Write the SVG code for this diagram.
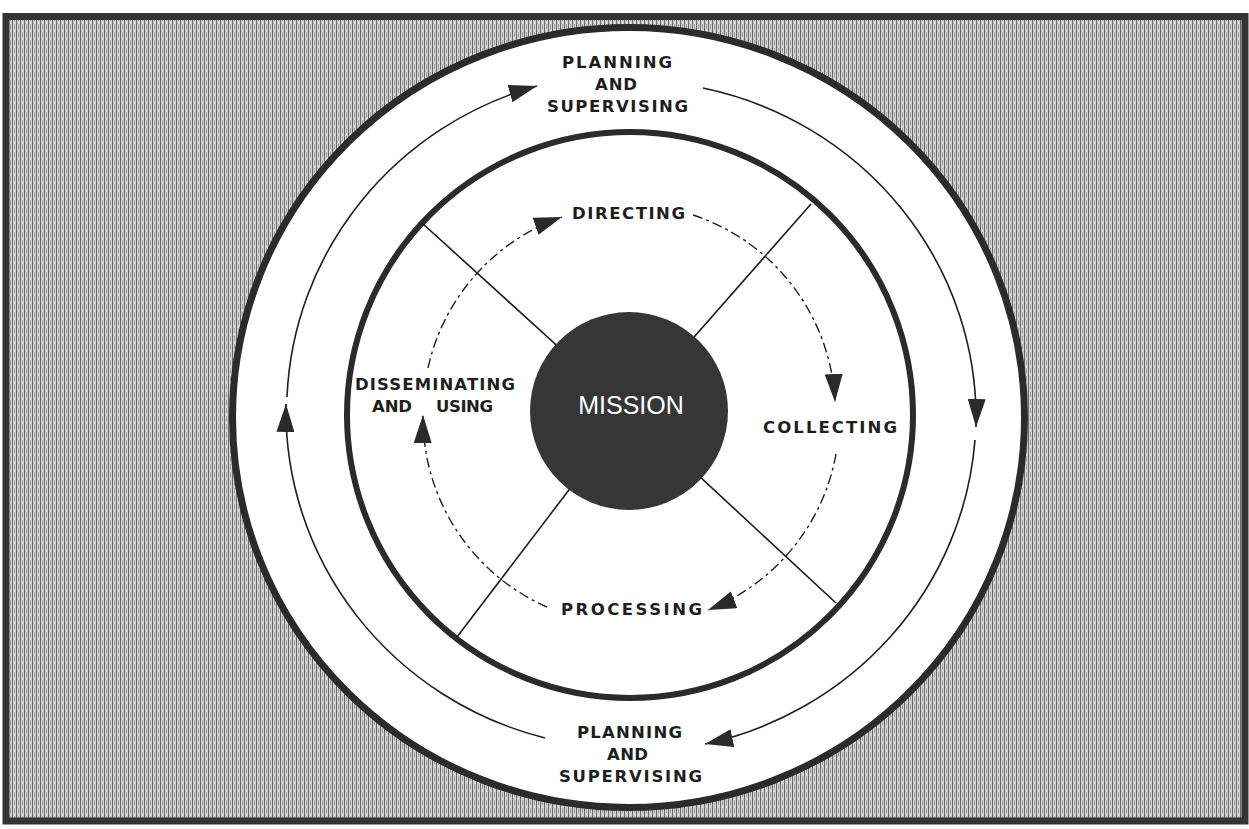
<svg xmlns="http://www.w3.org/2000/svg" width="1249" height="829" viewBox="0 0 1249 829">
  <style>
    .lbl { font-family: "DejaVu Sans", "Liberation Sans", Arial, sans-serif; font-weight: bold; font-size: 16.5px; fill: #1e1e1e; }
    .ring { fill: none; stroke: #2b2b2b; }
    .cyc { fill: none; stroke: #1e1e1e; stroke-width: 1.6; marker-end: url(#ah); }
    .dash { stroke-dasharray: 10 4 3 4; stroke-width: 1.4; }
    .spoke { stroke: #1a1a1a; stroke-width: 1.6; }
  </style>
  <defs>
    <pattern id="hatch" patternUnits="userSpaceOnUse" width="4" height="8">
      <rect width="4" height="8" fill="#d2d2d2"/>
      <rect x="0" width="1" height="8" fill="#6a6a6a"/>
      <rect x="2" y="0" width="1" height="5" fill="#a0a0a0"/>
    </pattern>
    <marker id="ah" markerUnits="userSpaceOnUse" markerWidth="28" markerHeight="18" viewBox="0 0 28 18" refX="28" refY="9" orient="auto">
      <path d="M0,0 L28,9 L0,18 Z" fill="#2a2a2a"/>
    </marker>
  </defs>

  <rect width="1249" height="829" fill="#fff"/>
  <g id="frame">
    <rect x="6" y="16.5" width="1239" height="804.5" fill="url(#hatch)" stroke="#333" stroke-width="7"/>
  </g>

  <g id="outer-ring">
    <ellipse cx="628.5" cy="417.5" rx="396" ry="390" fill="#fff" stroke="#2b2b2b" stroke-width="7"/>
  </g>
  <g id="inner-ring">
    <circle class="ring" cx="630" cy="415" r="283" stroke-width="6"/>
  </g>

  <g id="connectors">
    <g id="spokes">
      <line class="spoke" x1="629" y1="411" x2="422" y2="223"/>
      <line class="spoke" x1="629" y1="411" x2="811" y2="204"/>
      <line class="spoke" x1="629" y1="411" x2="836" y2="603"/>
      <line class="spoke" x1="629" y1="411" x2="457" y2="637"/>
    </g>
    <g id="outer-cycle">
      <path class="cyc" d="M287,397 A345,338 0 0 1 537,86"/>
      <path class="cyc" d="M703,88 A345,338 0 0 1 976,427"/>
      <path class="cyc" d="M975,440 A345,338 0 0 1 705,744"/>
      <path class="cyc" d="M545,738 A345,338 0 0 1 286,404"/>
    </g>
    <g id="inner-cycle">
      <path class="cyc dash" d="M428,368 A207,207 0 0 1 562,217"/>
      <path class="cyc dash" d="M693,215 A207,207 0 0 1 835,402"/>
      <path class="cyc dash" d="M836,454 A207,207 0 0 1 708,610"/>
      <path class="cyc dash" d="M547,607 A207,207 0 0 1 423,415"/>
    </g>
  </g>

  <g id="mission">
    <circle cx="629" cy="411" r="99" fill="#363636"/>
    <text x="631" y="414" text-anchor="middle" font-family="Liberation Sans, Arial, sans-serif" font-size="25" fill="#fff">MISSION</text>
  </g>

  <g id="planning-top">
    <text class="lbl" x="562" y="68" textLength="110" lengthAdjust="spacing">PLANNING</text>
    <text class="lbl" x="595" y="90" textLength="42" lengthAdjust="spacing">AND</text>
    <text class="lbl" x="547" y="112" textLength="141" lengthAdjust="spacing">SUPERVISING</text>
  </g>
  <g id="planning-bottom">
    <text class="lbl" x="577" y="738" textLength="105" lengthAdjust="spacing">PLANNING</text>
    <text class="lbl" x="607" y="760" textLength="41" lengthAdjust="spacing">AND</text>
    <text class="lbl" x="559" y="782" textLength="143" lengthAdjust="spacing">SUPERVISING</text>
  </g>
  <g id="directing">
    <text class="lbl" x="572" y="219" textLength="113" lengthAdjust="spacing">DIRECTING</text>
  </g>
  <g id="collecting">
    <text class="lbl" x="763" y="433" textLength="134" lengthAdjust="spacing">COLLECTING</text>
  </g>
  <g id="processing">
    <text class="lbl" x="561" y="615" textLength="141" lengthAdjust="spacing">PROCESSING</text>
  </g>
  <g id="disseminating">
    <text class="lbl" x="355" y="390" textLength="160" lengthAdjust="spacing">DISSEMINATING</text>
    <text class="lbl" x="372" y="412" textLength="40" lengthAdjust="spacing">AND</text>
    <text class="lbl" x="436" y="412" textLength="57" lengthAdjust="spacing">USING</text>
  </g>
</svg>
